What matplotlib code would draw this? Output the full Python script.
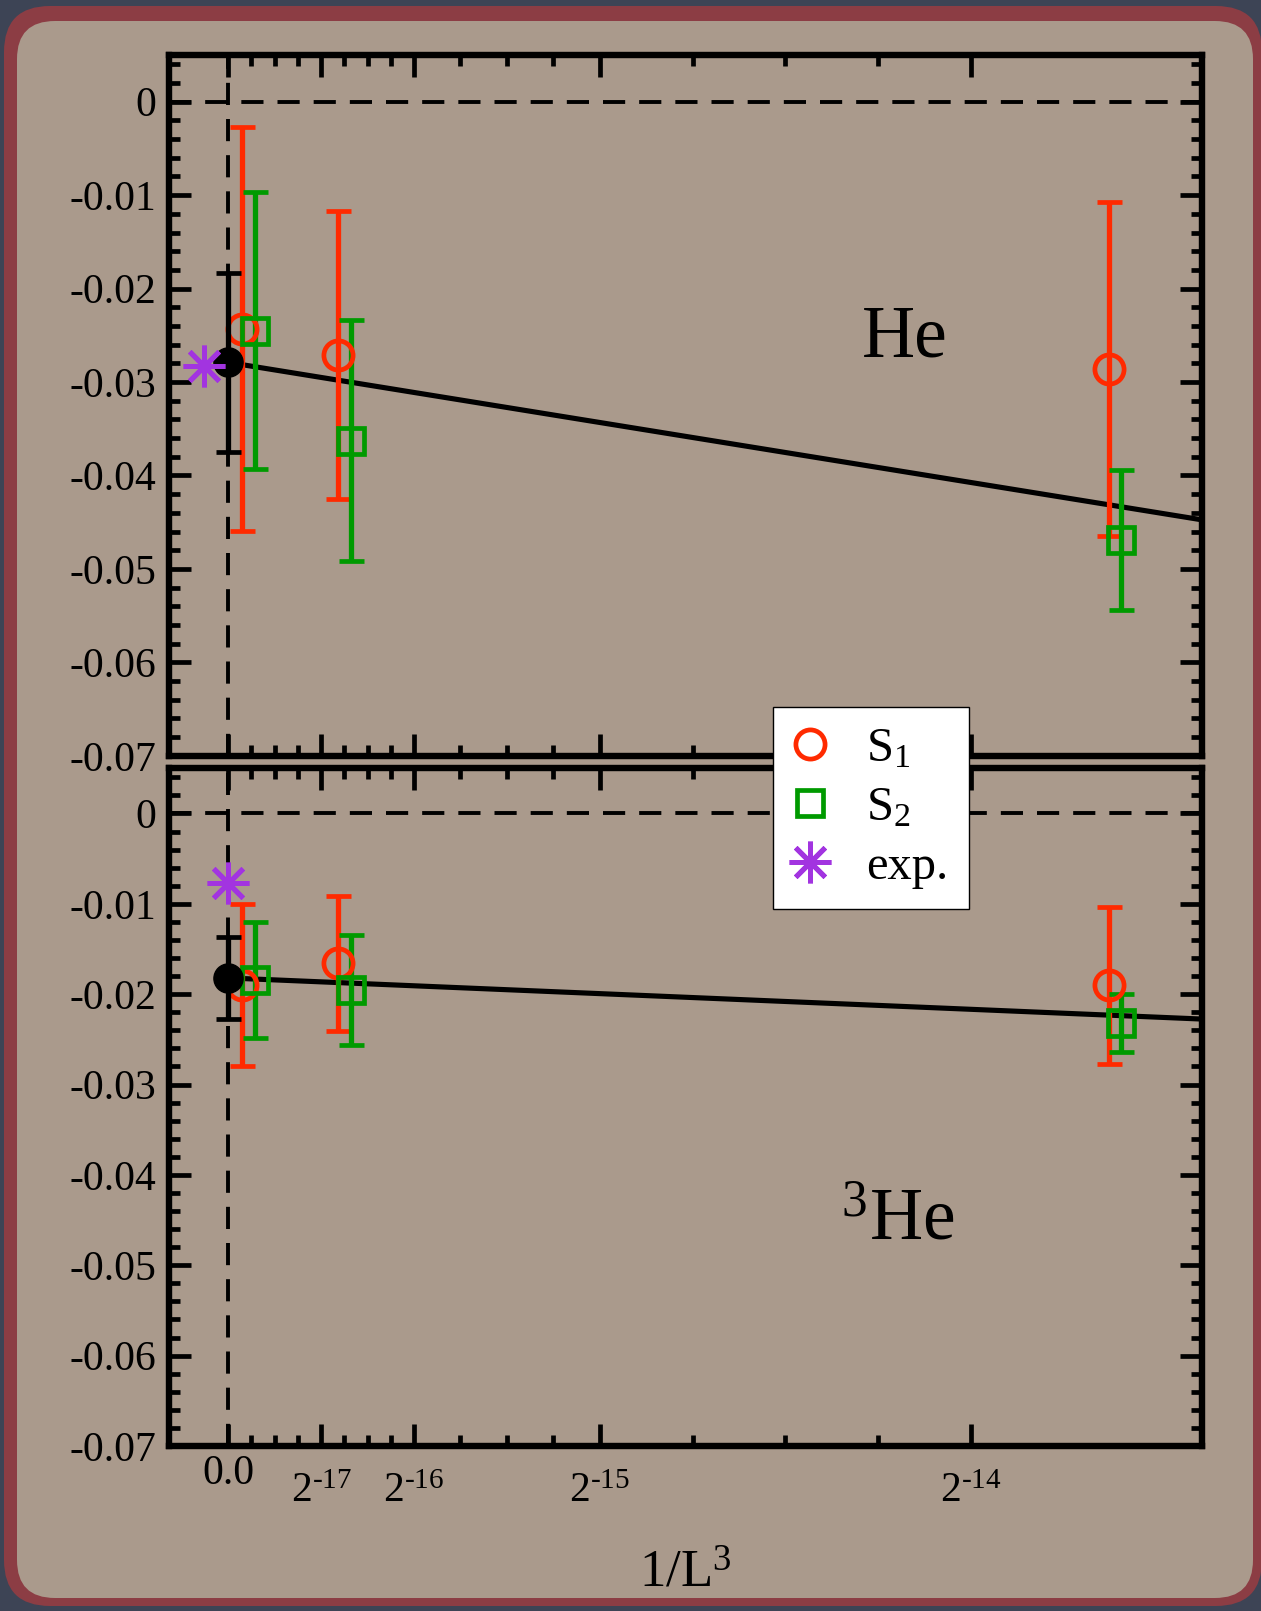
import numpy as np
import matplotlib
matplotlib.use("Agg")
import matplotlib.pyplot as plt
import matplotlib.transforms as mtransforms
from matplotlib.ticker import FixedLocator, MultipleLocator
from matplotlib.patches import FancyBboxPatch
from matplotlib.lines import Line2D

plt.rcParams['font.family'] = ['Liberation Serif', 'DejaVu Serif']
plt.rcParams['mathtext.fontset'] = 'custom'
plt.rcParams['mathtext.rm'] = 'Liberation Serif'
plt.rcParams['mathtext.it'] = 'Liberation Serif:italic'
plt.rcParams['mathtext.bf'] = 'Liberation Serif:bold'
plt.rcParams['axes.unicode_minus'] = False

# ---------------- data ----------------
box_sizes = np.array([96, 48, 24])          # lattice extent L
inv_volume = 1.0 / box_sizes.astype(float) ** 3

# 4He
he4_s1 = [-0.0243, -0.0271, -0.0286]
he4_s1_err = [0.0216, 0.0154, 0.0179]
he4_s2 = [-0.0245, -0.0363, -0.0469]
he4_s2_err = [0.0148, 0.0129, 0.0075]
he4_extrap = -0.0279
he4_extrap_err = 0.0096
he4_exp = -0.0283
he4_fit_slope = -210.6

# 3He
he3_s1 = [-0.0190, -0.0166, -0.0190]
he3_s1_err = [0.0090, 0.0075, 0.0087]
he3_s2 = [-0.0184, -0.0195, -0.0232]
he3_s2_err = [0.0064, 0.0061, 0.0032]
he3_extrap = -0.0182
he3_extrap_err = 0.0045
he3_exp = -0.0077
he3_fit_slope = -56.9

x_tick_values = [0.0, 2.0**-17, 2.0**-16, 2.0**-15, 2.0**-14]
x_tick_labels = ['0.0', r'$2^{\text{-17}}$', r'$2^{\text{-16}}$',
                 r'$2^{\text{-15}}$', r'$2^{\text{-14}}$']
y_tick_values = [0.0, -0.01, -0.02, -0.03, -0.04, -0.05, -0.06, -0.07]
y_tick_labels = ['0', '-0.01', '-0.02', '-0.03', '-0.04', '-0.05', '-0.06', '-0.07']

# ---------------- style ----------------
RED = '#ff2a00'
GREEN = '#009a00'
PURPLE = '#a234e0'
BLACK = 'black'
XMIN, XMAX = -4.9e-6, 8.0e-5
YMIN, YMAX = -0.07, 0.005
S2_SHIFT = 1.04e-6

EBAR_LW = 3.8
MEW = 3.4

W, H = 1261, 1611
fig = plt.figure(figsize=(W / 100, H / 100), dpi=100)
fig.patch.set_facecolor('#3d4455')

# rounded card behind the plots
bg = fig.add_axes([0, 0, 1, 1], zorder=-10)
bg.set_xlim(0, W)
bg.set_ylim(H, 0)
bg.axis('off')
bg.add_patch(FancyBboxPatch((4, 6), 1262 - 4, 1606 - 6,
                            boxstyle='round,pad=0,rounding_size=46',
                            fc='#8c3d44', ec='none'))
bg.add_patch(FancyBboxPatch((17, 21), 1253 - 17, 1598 - 21,
                            boxstyle='round,pad=0,rounding_size=38',
                            fc='#aa9a8c', ec='none'))

minor_x = ([k * 2.0**-19 for k in range(1, 8) if k != 4]
           + [2.0**-16 + k * 2.0**-18 for k in range(1, 4)]
           + [2.0**-15 + k * 2.0**-17 for k in range(1, 4)])

left = 168.6 / W
width = (1202 - 168.6) / W
ax_top = fig.add_axes([left, 1 - 755.8 / H, width, (755.8 - 55) / H])
ax_bot = fig.add_axes([left, 1 - 1446 / H, width, (1446 - 768.3) / H])


def style_axes(ax):
    ax.set_facecolor('none')
    ax.set_xlim(XMIN, XMAX)
    ax.set_ylim(YMIN, YMAX)
    for s in ax.spines.values():
        s.set_linewidth(4.6)
    ax.xaxis.set_major_locator(FixedLocator(x_tick_values))
    ax.xaxis.set_minor_locator(FixedLocator(minor_x))
    ax.yaxis.set_major_locator(FixedLocator(y_tick_values))
    ax.yaxis.set_minor_locator(MultipleLocator(0.002))
    ax.set_yticklabels(y_tick_labels)
    ax.tick_params(which='both', direction='in', top=True, right=True,
                   width=3.4, color='black')
    ax.tick_params(which='major', length=16)
    ax.tick_params(which='minor', length=8)
    ax.tick_params(axis='y', labelsize=30, pad=9)
    ax.axhline(0, color='black', lw=2.8, ls=(0, (5.7, 3.6)), zorder=1)
    ax.axvline(0, color='black', lw=2.8, ls=(0, (5.7, 3.6)), zorder=1)


def draw_panel(ax, s1, s1e, s2, s2e, ext, exte, exp_val, exp_x, slope):
    fx = np.array([0.0, XMAX])
    ax.plot(fx, ext + slope * fx, color='black', lw=3.7, zorder=2)
    ax.errorbar(inv_volume, s1, yerr=s1e, fmt='o', mfc='none', mec=RED,
                ms=21, mew=MEW, ecolor=RED, elinewidth=EBAR_LW, capsize=9,
                capthick=3.4, zorder=3)
    ax.errorbar(inv_volume + S2_SHIFT, s2, yerr=s2e, fmt='s', mfc='none',
                mec=GREEN, ms=19, mew=MEW, ecolor=GREEN, elinewidth=EBAR_LW,
                capsize=9, capthick=3.4, zorder=3)
    ax.errorbar([0.0], [ext], yerr=[exte], fmt='o', color=BLACK, ms=21,
                elinewidth=EBAR_LW, capsize=9, capthick=3.4, zorder=4)
    ax.plot([exp_x], [exp_val], linestyle='none', marker=(8, 2, 0),
            ms=30, mew=3.6, color=PURPLE, zorder=5)


style_axes(ax_top)
style_axes(ax_bot)
ax_top.tick_params(axis='x', labelbottom=False)
ax_bot.set_xticklabels(x_tick_labels)
ax_bot.tick_params(axis='x', labelsize=30, pad=6)

draw_panel(ax_top, he4_s1, he4_s1_err, he4_s2, he4_s2_err,
           he4_extrap, he4_extrap_err, he4_exp, -2.0e-6, he4_fit_slope)
draw_panel(ax_bot, he3_s1, he3_s1_err, he3_s2, he3_s2_err,
           he3_extrap, he3_extrap_err, he3_exp, 0.0, he3_fit_slope)

ax_top.text(5.56e-5, -0.02725, 'He', fontsize=53, ha='center', va='baseline')
ax_bot.text(5.50e-5, -0.0472, r'$^{3}$He', fontsize=53, ha='center',
            va='baseline')

ax_bot.set_xlabel(r'1/L$^{3}$', fontsize=38, labelpad=28)

handles = [
    Line2D([], [], ls='none', marker='o', mfc='none', mec=RED, ms=21, mew=MEW),
    Line2D([], [], ls='none', marker='s', mfc='none', mec=GREEN, ms=19, mew=MEW),
    Line2D([], [], ls='none', marker=(8, 2, 0), color=PURPLE, ms=30, mew=3.6),
]
labels = [r'$\mathrm{S}_{1}$', r'$\mathrm{S}_{2}$', 'exp.']
leg = fig.legend(handles, labels, loc='upper left',
                 bbox_to_anchor=(773 / W, 1 - 707 / H), fontsize=35,
                 frameon=True, fancybox=False, framealpha=1,
                 edgecolor='black', borderpad=0.42, handlelength=0.7,
                 handletextpad=0.8, labelspacing=0.3, borderaxespad=0)
leg.get_frame().set_linewidth(1.0)

# power-of-two labels sit a little lower than the plain "0.0"
fig.canvas.draw()
drop = mtransforms.ScaledTranslation(0, -13 / 72, fig.dpi_scale_trans)
for tick in ax_bot.xaxis.get_major_ticks()[1:]:
    tick.label1.set_transform(tick.label1.get_transform() + drop)

fig.savefig('out.png', dpi=100, facecolor=fig.get_facecolor())
